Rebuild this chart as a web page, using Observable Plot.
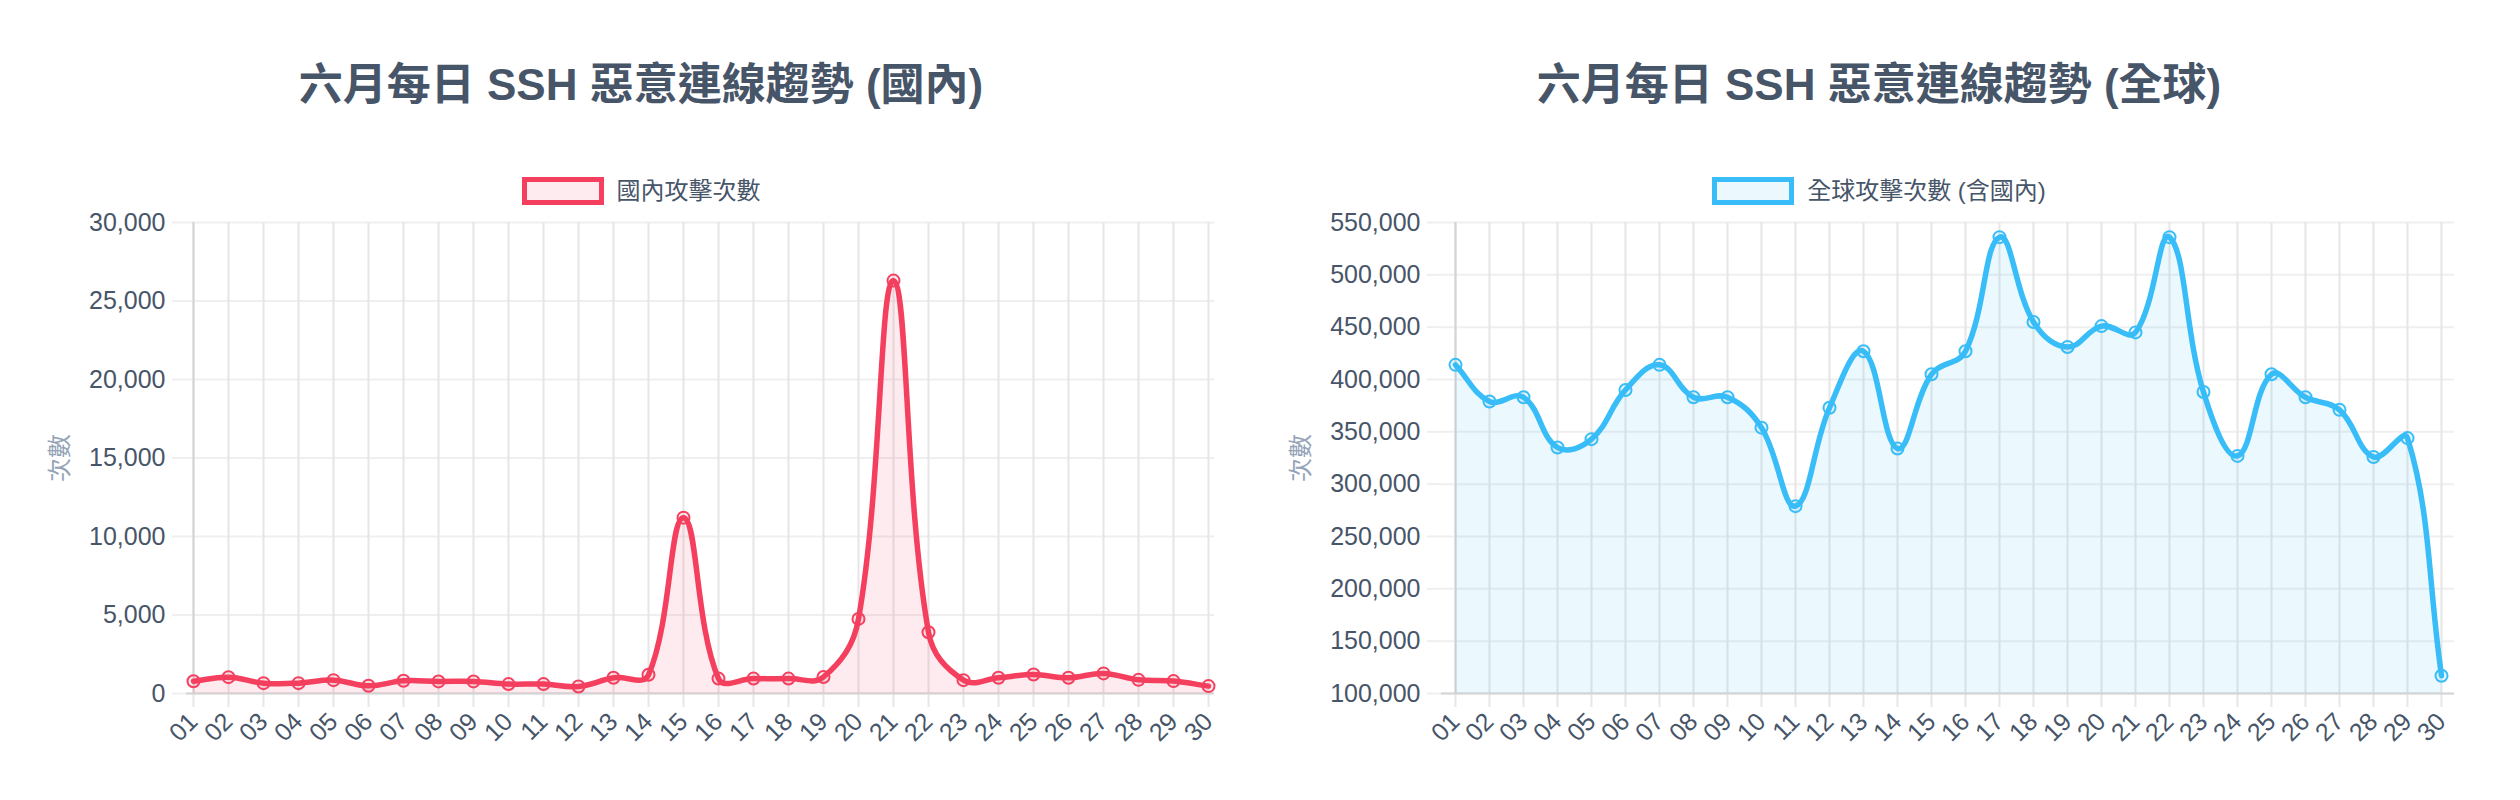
<!DOCTYPE html>
<html><head><meta charset="utf-8">
<script src="https://cdn.jsdelivr.net/npm/d3@7"></script>
<script src="https://cdn.jsdelivr.net/npm/@observablehq/plot@0.6"></script>
<style>
body{margin:0;background:#fff;width:2520px;height:800px;position:relative;overflow:hidden;font-family:"Liberation Sans","Noto Sans CJK TC",sans-serif;}
.panel{position:absolute;top:0;width:1200px;height:800px;}
.title{position:absolute;top:62px;left:0;width:100%;text-align:center;font-size:44px;font-weight:bold;color:#475569;line-height:46px;white-space:nowrap;}
.legend{position:absolute;top:177px;left:0;width:100%;display:flex;justify-content:center;align-items:center;font-size:24px;color:#475569;line-height:28px;}
.swatch{box-sizing:border-box;width:82px;height:28px;border:5px solid;margin-right:13px;}
.chart{position:absolute;top:200px;left:0;}
</style></head>
<body>
<div class="panel" id="p1" style="left:41px">
  <div class="title">六月每日 SSH 惡意連線趨勢 (國內)</div>
  <div class="legend"><div class="swatch" style="border-color:#f43f5e;background:rgba(244,63,94,0.1)"></div><span>國內攻擊次數</span></div>
  <div class="chart" id="c1"></div>
</div>
<div class="panel" id="p2" style="left:1279px">
  <div class="title">六月每日 SSH 惡意連線趨勢 (全球)</div>
  <div class="legend"><div class="swatch" style="border-color:#38bdf8;background:rgba(56,189,248,0.1)"></div><span>全球攻擊次數 (含國內)</span></div>
  <div class="chart" id="c2"></div>
</div>
<script>
const days = ["01","02","03","04","05","06","07","08","09","10","11","12","13","14","15","16","17","18","19","20","21","22","23","24","25","26","27","28","29","30"];
const domestic = [780,1040,660,660,850,490,810,770,770,600,600,450,1000,1190,11200,950,950,950,1050,4750,26300,3900,850,1000,1210,1000,1280,870,790,470];
const globalCounts = [414000,379000,383000,335000,343000,390000,414000,383000,383000,354000,279000,373000,427000,334000,405000,427000,536000,455000,431000,451000,445000,536000,388000,327000,405000,383000,371000,326000,344000,117000];
const domesticTicks = [0,5000,10000,15000,20000,25000,30000];
const globalTicks = [100000,150000,200000,250000,300000,350000,400000,450000,500000,550000];
const axisTitle = "次數";

// Chart.js-style bezier spline (tension 0.4, control points capped to chart area)
function chartjsCurve(t, box) {
  const clamp = (v, a, b) => Math.max(a, Math.min(b, v));
  return function(context) {
    let line = NaN, pts = [];
    return {
      areaStart() { line = 0; },
      areaEnd() { line = NaN; },
      lineStart() { pts = []; },
      point(x, y) { pts.push([+x, +y]); },
      lineEnd() {
        const n = pts.length;
        if (n) {
          const cp = pts.map((cur, i) => {
            const prev = pts[Math.max(i - 1, 0)], next = pts[Math.min(i + 1, n - 1)];
            const d01 = Math.hypot(cur[0] - prev[0], cur[1] - prev[1]);
            const d12 = Math.hypot(next[0] - cur[0], next[1] - cur[1]);
            let s01 = d01 / (d01 + d12), s12 = d12 / (d01 + d12);
            if (isNaN(s01)) s01 = 0;
            if (isNaN(s12)) s12 = 0;
            const fa = t * s01, fb = t * s12;
            const dx = next[0] - prev[0], dy = next[1] - prev[1];
            return {
              px: clamp(cur[0] - fa * dx, box.x0, box.x1), py: clamp(cur[1] - fa * dy, box.y0, box.y1),
              nx: clamp(cur[0] + fb * dx, box.x0, box.x1), ny: clamp(cur[1] + fb * dy, box.y0, box.y1)
            };
          });
          if (line) context.lineTo(pts[0][0], pts[0][1]); else context.moveTo(pts[0][0], pts[0][1]);
          for (let i = 1; i < n; i++) context.bezierCurveTo(cp[i-1].nx, cp[i-1].ny, cp[i].px, cp[i].py, pts[i][0], pts[i][1]);
        }
        if (line || (line !== 0 && n === 1)) context.closePath();
        line = 1 - line;
      }
    };
  };
}

function makeChart({values, ticks, color, ml, mr, labelDx}) {
  const W = 1200, H = 580, mt = 22, mb = 87;
  const rows = days.map((d, i) => ({day: d, v: values[i]}));
  const curve = chartjsCurve(0.4, {x0: ml, x1: W - mr, y0: mt, y1: H - mb});
  const gridColor = "#e6e6e6";
  return Plot.plot({
    width: W, height: H, marginLeft: ml, marginRight: mr, marginTop: mt, marginBottom: mb,
    style: {fontFamily: '"Liberation Sans","Noto Sans CJK TC",sans-serif', fontSize: "25px", color: "#475569", background: "transparent", overflow: "visible"},
    x: {type: "point", domain: days, padding: 0},
    y: {domain: [ticks[0], ticks[ticks.length - 1]]},
    marks: [
      Plot.gridY(ticks, {stroke: "#efefef", strokeOpacity: 1, strokeWidth: 2}),
      Plot.gridX(days, {stroke: gridColor, strokeOpacity: 1, strokeWidth: 2}),
      Plot.axisY(ticks, {tickSize: 14, tickPadding: 7, tickFormat: d3.format(","), stroke: "#efefef", strokeWidth: 2, fill: "#475569", label: null}),
      Plot.axisX(days, {tickSize: 14, tickPadding: 10, tickRotate: -45, stroke: gridColor, strokeWidth: 2, fill: "#475569", label: null}),
      Plot.ruleX([days[0]], {stroke: "#d4d4d4", strokeWidth: 2}),
      Plot.ruleY([ticks[0]], {stroke: "#d4d4d4", strokeWidth: 2}),
      Plot.areaY(rows, {x: "day", y1: ticks[0], y2: "v", fill: color, fillOpacity: 0.1, curve}),
      Plot.lineY(rows, {x: "day", y: "v", stroke: color, strokeWidth: 5.5, curve}),
      Plot.dot(rows, {x: "day", y: "v", r: 6, stroke: color, strokeWidth: 2, fill: color, fillOpacity: 0.1}),
      Plot.text([axisTitle], {frameAnchor: "left", dx: labelDx, rotate: -90, textAnchor: "middle", lineAnchor: "middle", fill: "#94a3b8", fontSize: 24, text: d => d})
    ]
  });
}

document.getElementById("c1").append(makeChart({values: domestic, ticks: domesticTicks, color: "#f43f5e", ml: 145, mr: 27, labelDx: -126}));
document.getElementById("c2").append(makeChart({values: globalCounts, ticks: globalTicks, color: "#38bdf8", ml: 162, mr: 25, labelDx: -140}));
</script>
</body></html>
